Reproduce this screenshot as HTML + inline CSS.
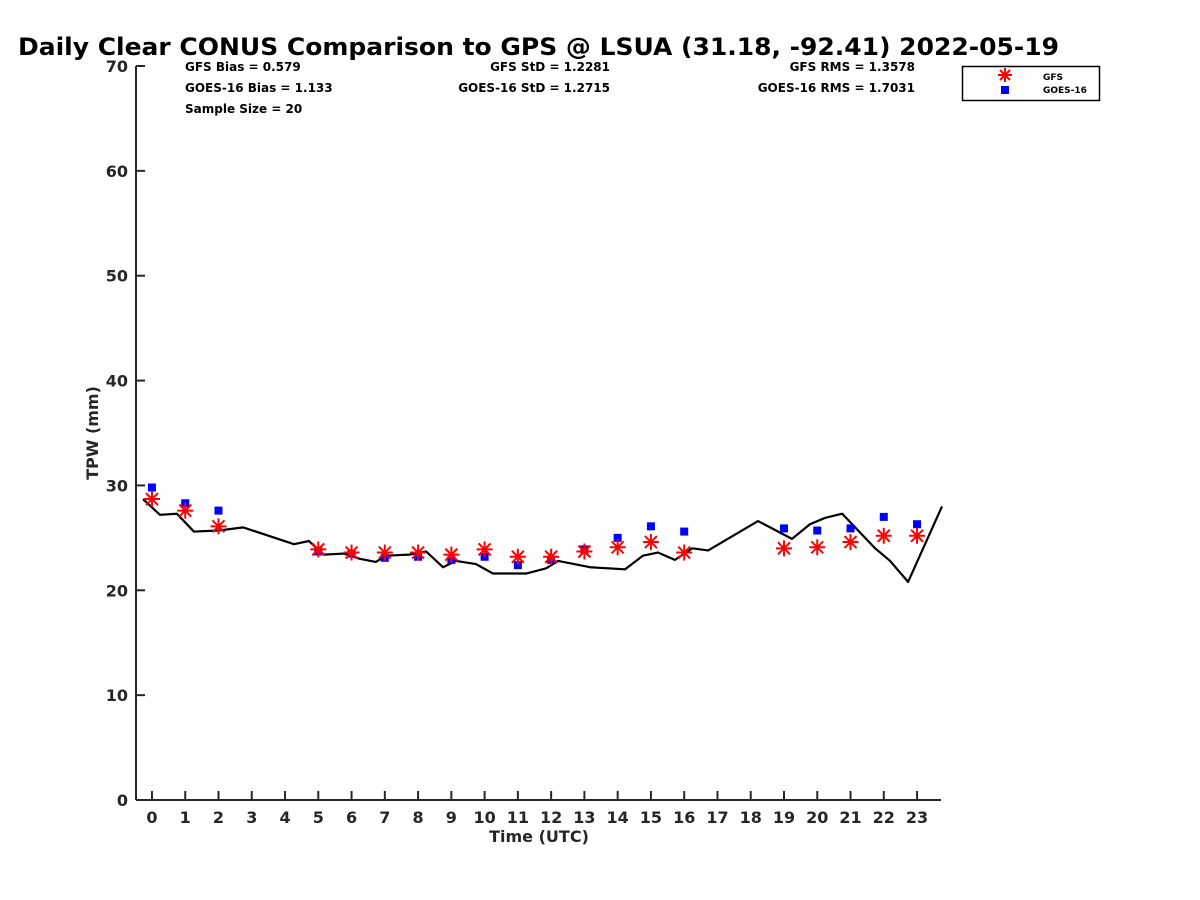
<!DOCTYPE html>
<html><head><meta charset="utf-8">
<style>
html,body{margin:0;padding:0;background:#fff;}
svg{display:block;font-family:"DejaVu Sans","Liberation Sans",sans-serif;font-weight:bold;}
</style></head>
<body>
<svg id="chart" width="1200" height="900" viewBox="0 0 1200 900" xmlns="http://www.w3.org/2000/svg">
<rect width="1200" height="900" fill="#fff"/>
<text x="18" y="55" font-size="24" textLength="1041" lengthAdjust="spacingAndGlyphs">Daily Clear CONUS Comparison to GPS @ LSUA (31.18, -92.41) 2022-05-19</text>
<g font-size="12" fill="#000">
<text x="185" y="71">GFS Bias = 0.579</text>
<text x="185" y="92">GOES-16 Bias = 1.133</text>
<text x="185" y="113">Sample Size = 20</text>
<text x="610" y="71" text-anchor="end">GFS StD = 1.2281</text>
<text x="610" y="92" text-anchor="end">GOES-16 StD = 1.2715</text>
<text x="915" y="71" text-anchor="end">GFS RMS = 1.3578</text>
<text x="915" y="92" text-anchor="end">GOES-16 RMS = 1.7031</text>
</g>
<g id="axes"></g>
<g id="marks"></g>
<g>
<rect x="962.5" y="66.5" width="137" height="34" fill="#fff" stroke="#000" stroke-width="1.5"/>
<g stroke="#f00" stroke-width="2">
<line x1="998" y1="75" x2="1012" y2="75"/><line x1="1005" y1="68" x2="1005" y2="82"/>
<line x1="1000" y1="70" x2="1010" y2="80"/><line x1="1010" y1="70" x2="1000" y2="80"/></g>
<rect x="1001" y="86" width="8" height="8" fill="#00f"/>
<text x="1043" y="80" font-size="9">GFS</text>
<text x="1043" y="93" font-size="9">GOES-16</text>
</g>
</svg>
<script>
const hours = [0,1,2,3,4,5,6,7,8,9,10,11,12,13,14,15,16,17,18,19,20,21,22,23];
const yTicks = [0,10,20,30,40,50,60,70];
const gpsTime = [-0.27,0.24,0.75,1.26,2.01,2.74,4.27,4.72,5.17,5.77,6.25,6.73,7.04,7.73,8.24,8.75,9.14,9.74,10.25,11.25,11.85,12.21,13.17,14.22,14.76,15.21,15.72,16.24,16.72,18.22,19.24,19.78,20.23,20.75,21.74,22.19,22.73,23.75];
const gpsTpw = [28.7,27.2,27.3,25.6,25.7,26.0,24.4,24.7,23.4,23.5,23.0,22.7,23.3,23.4,23.7,22.2,22.8,22.5,21.6,21.6,22.1,22.8,22.2,22.0,23.3,23.6,22.9,24.0,23.8,26.6,24.9,26.3,26.9,27.3,24.0,22.8,20.8,28.0];
const obsHours = [0,1,2,5,6,7,8,9,10,11,12,13,14,15,16,19,20,21,22,23];
const gfsTpw = [28.7,27.6,26.1,23.9,23.6,23.6,23.6,23.4,23.9,23.2,23.2,23.7,24.1,24.6,23.6,24.0,24.1,24.6,25.2,25.2];
const goesTpw = [29.8,28.3,27.6,23.7,23.5,23.1,23.2,22.9,23.2,22.4,22.9,23.9,25.0,26.1,25.6,25.9,25.7,25.9,27.0,26.3];

const X0=136, X1=941, Y0=800, Y1=66, XMIN=-0.48, XMAX=23.72, YMIN=0, YMAX=70;
const sx = h => X0 + (h - XMIN) / (XMAX - XMIN) * (X1 - X0);
const sy = v => Y0 - (v - YMIN) / (YMAX - YMIN) * (Y0 - Y1);
const NS = "http://www.w3.org/2000/svg";
function mk(tag, attrs, parent){ const e=document.createElementNS(NS,tag); for(const k in attrs) e.setAttribute(k,attrs[k]); parent.appendChild(e); return e; }
const axes=document.getElementById('axes'), marks=document.getElementById('marks');

const yAxis = mk('path',{d:`M${X0},${Y1} V${Y0}`,stroke:'#262626','stroke-width':2,fill:'none'},axes);


const xAxis = mk('path',{d:`M${X0},${Y0} H${X1}`,stroke:'#262626','stroke-width':2,fill:'none'},axes);



yTicks.forEach(v=>{
  const y=sy(v);
  const t=mk('line',{x1:X0,y1:y,x2:X0+9,y2:y,stroke:'#262626','stroke-width':2},axes);
  
  
  const l=mk('text',{x:X0-8,y:y+6,'font-size':16,'text-anchor':'end',fill:'#262626'},axes);
  
  
  l.textContent=v;
});
hours.forEach(h=>{
  const x=sx(h);
  const t=mk('line',{x1:x,y1:Y0,x2:x,y2:Y0-9,stroke:'#262626','stroke-width':2},axes);
  
  
  const l=mk('text',{x:x,y:Y0+23,'font-size':16,'text-anchor':'middle',fill:'#262626'},axes);
  
  
  l.textContent=h;
});
const xt=mk('text',{x:539,y:842,'font-size':16,'text-anchor':'middle',fill:'#262626'},axes);


xt.textContent='Time (UTC)';
const yt=mk('text',{x:0,y:0,'font-size':16,'text-anchor':'middle',fill:'#262626',transform:'translate(98,433) rotate(-90)'},axes);


yt.textContent='TPW (mm)';

const line=mk('polyline',{points:gpsTime.map((t,i)=>sx(t)+','+sy(gpsTpw[i])).join(' '),fill:'none',stroke:'#000','stroke-width':2.2,'stroke-linejoin':'round'},marks);



obsHours.forEach((h,i)=>{
  const x=sx(h), y=sy(goesTpw[i]);
  const r=mk('rect',{x:x-4,y:y-4,width:8,height:8,fill:'#00f'},marks);
  
  
});
obsHours.forEach((h,i)=>{
  const x=sx(h), y=sy(gfsTpw[i]);
  const g=mk('g',{stroke:'#f00','stroke-width':2},marks);
  
  
  mk('line',{x1:x-8,y1:y,x2:x+8,y2:y},g);
  mk('line',{x1:x,y1:y-8,x2:x,y2:y+8},g);
  mk('line',{x1:x-6,y1:y-6,x2:x+6,y2:y+6},g);
  mk('line',{x1:x+6,y1:y-6,x2:x-6,y2:y+6},g);
});
</script>
</body></html>
